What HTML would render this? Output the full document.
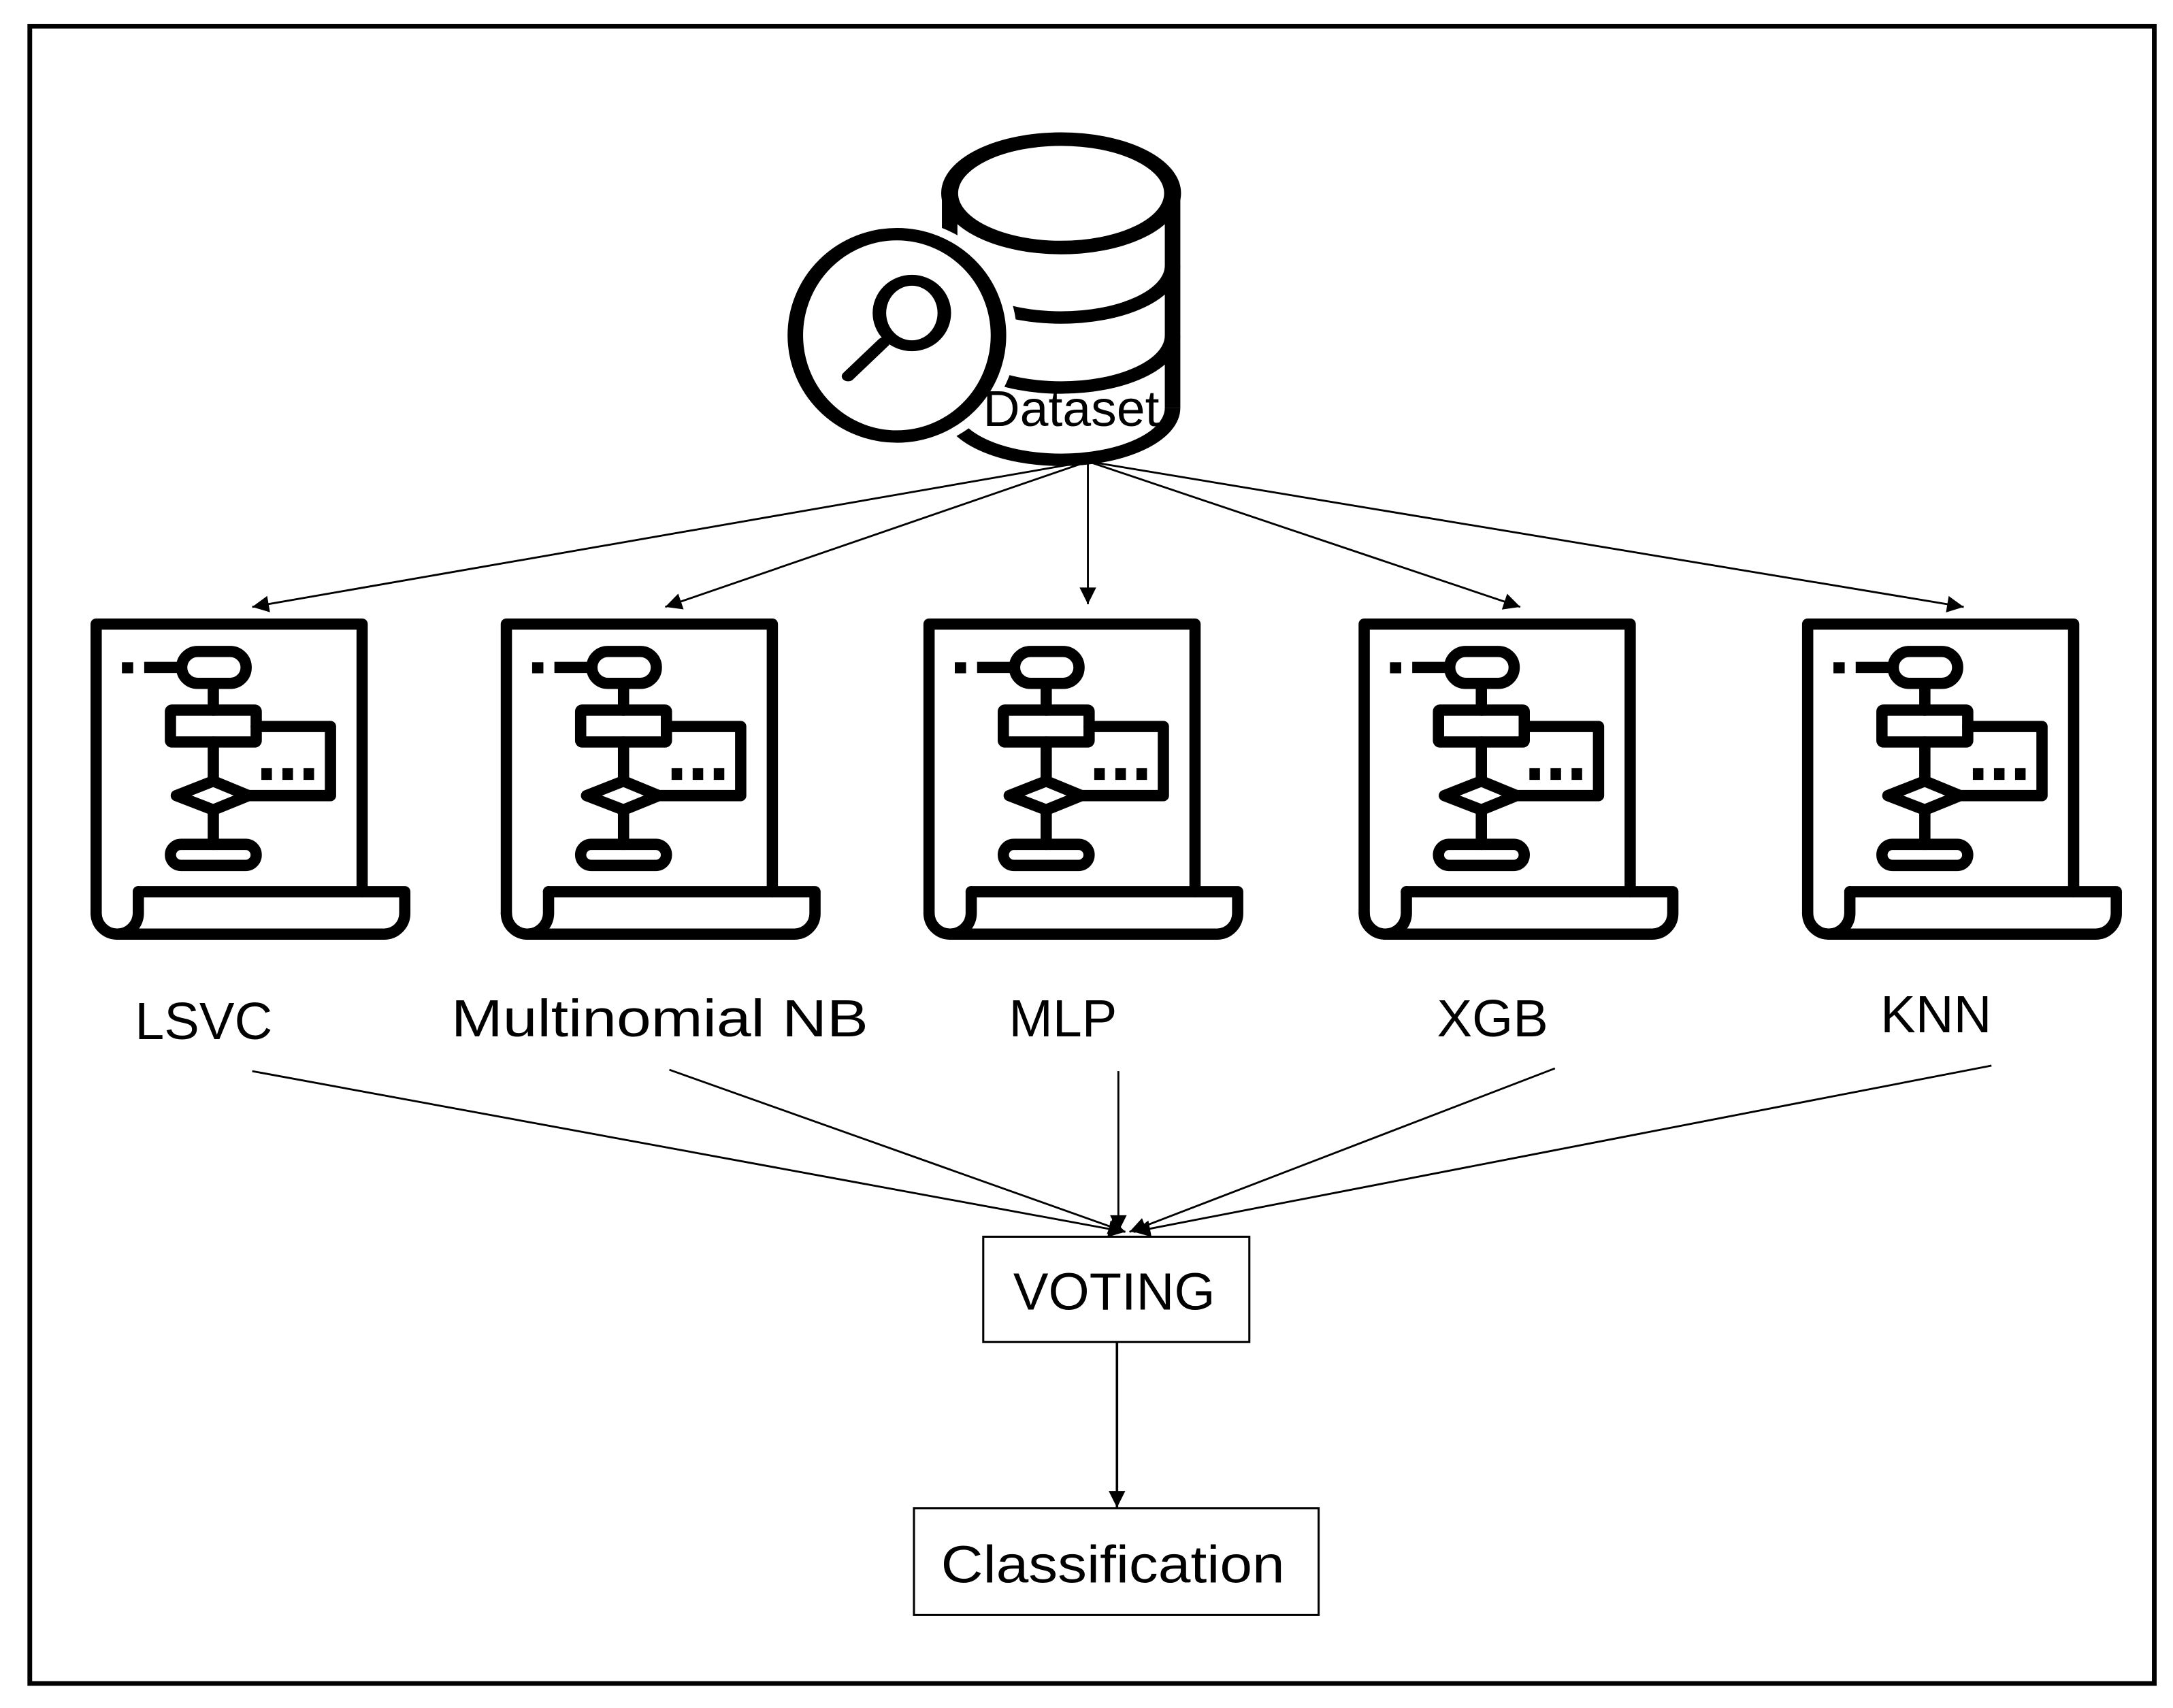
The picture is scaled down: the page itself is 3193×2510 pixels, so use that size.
<!DOCTYPE html>
<html><head><meta charset="utf-8"><style>
html,body{margin:0;padding:0;background:#fff;}
svg{display:block;}
text{font-family:"Liberation Sans",sans-serif;fill:#000;}
</style></head><body>
<svg width="3193" height="2510" viewBox="0 0 1568 1232.6" preserveAspectRatio="none" xmlns="http://www.w3.org/2000/svg">
<defs>
<marker id="ah" viewBox="0 0 10 10" refX="10" refY="5" markerWidth="14" markerHeight="12" markerUnits="userSpaceOnUse" orient="auto">
<path d="M0,0 L10,5 L0,10 z" fill="#000"/></marker>
<g id="doc">
<g fill="none" stroke="#000" stroke-width="48" stroke-linejoin="round" stroke-linecap="round">
<path d="M120 1390 L120 155 L1255 155 L1255 1297"/>
<path d="M300 1297 L1437 1297 L1437 1390 A88 88 0 0 1 1350 1478 L210 1478"/>
<path d="M300 1297 L300 1390 A90 90 0 0 1 210 1478"/>
<path d="M120 1390 A90 90 0 0 0 210 1478"/>
<line x1="325" y1="340" x2="465" y2="340" stroke-linecap="butt"/>
<rect x="485" y="272" width="275" height="136" rx="68"/>
<line x1="620" y1="408" x2="620" y2="522"/>
<rect x="437" y="522" width="366" height="136" rx="6"/>
<path d="M803 592 L1120 592 L1120 887 L770 887"/>
<polygon points="620,825 770,887 620,948 462,887"/>
<line x1="620" y1="658" x2="620" y2="825"/>
<line x1="620" y1="948" x2="620" y2="1095"/>
<rect x="437" y="1095" width="366" height="90" rx="45"/>
</g>
<g fill="#000">
<rect x="230" y="318" width="48" height="47"/>
<rect x="825" y="770" width="45" height="50"/>
<rect x="915" y="770" width="45" height="50"/>
<rect x="1005" y="770" width="45" height="50"/>
</g>
</g>
</defs>
<rect x="21.5" y="18.9" width="1533" height="1196" fill="none" stroke="#000" stroke-width="3.4"/>

<!-- dataset -->
<g transform="translate(540.3,90.6) scale(0.2036,0.163)">
<g fill="none" stroke="#000" stroke-width="55">
<line x1="712" y1="300" x2="712" y2="1250"/>
<line x1="1502" y1="300" x2="1502" y2="1250"/>
<ellipse cx="1107" cy="300" rx="395" ry="240" fill="#fff" stroke-width="60"/>
<path d="M712 620 A395 230 0 0 0 1502 620"/>
<path d="M712 930 A395 230 0 0 0 1502 930"/>
<path d="M712 1250 A395 230 0 0 0 1502 1250"/>
</g>
<ellipse cx="525" cy="929" rx="360" ry="448" fill="#fff" stroke="#fff" stroke-width="130"/>
<ellipse cx="525" cy="929" rx="360" ry="448" fill="#fff" stroke="#000" stroke-width="55"/>
<ellipse cx="578" cy="830" rx="115" ry="145" fill="none" stroke="#000" stroke-width="48"/>
<line x1="478" y1="960" x2="352" y2="1110" stroke="#000" stroke-width="45" stroke-linecap="round"/>
<text x="830" y="1330" font-size="225" textLength="625" lengthAdjust="spacingAndGlyphs">Dataset</text>
</g>

<!-- doc icons -->
<use href="#doc" transform="translate(66,447) scale(0.1691) translate(-100,-135)"/>
<use href="#doc" transform="translate(362,447) scale(0.1691) translate(-100,-135)"/>
<use href="#doc" transform="translate(667,447) scale(0.1691) translate(-100,-135)"/>
<use href="#doc" transform="translate(981,447) scale(0.1691) translate(-100,-135)"/>
<use href="#doc" transform="translate(1301,447) scale(0.1691) translate(-100,-135)"/>

<!-- arrows from dataset -->
<g stroke="#000" stroke-width="1.4" fill="none" marker-end="url(#ah)">
<line x1="785" y1="333" x2="182" y2="438"/>
<line x1="785" y1="333" x2="480" y2="438"/>
<line x1="785" y1="333" x2="785" y2="436"/>
<line x1="785" y1="333" x2="1097" y2="438"/>
<line x1="785" y1="333" x2="1417" y2="438"/>
</g>

<!-- labels -->
<g font-size="38">
<text x="147" y="750" text-anchor="middle">LSVC</text>
<text x="476" y="748" text-anchor="middle" textLength="301" lengthAdjust="spacingAndGlyphs">Multinomial NB</text>
<text x="767" y="748" text-anchor="middle">MLP</text>
<text x="1077" y="748" text-anchor="middle">XGB</text>
<text x="1397" y="745" text-anchor="middle">KNN</text>
</g>

<!-- arrows to voting -->
<g stroke="#000" stroke-width="1.4" fill="none" marker-end="url(#ah)">
<line x1="182" y1="773" x2="812" y2="889"/>
<line x1="483" y1="772" x2="812" y2="889"/>
<line x1="807" y1="773" x2="807" y2="889"/>
<line x1="1122" y1="771" x2="815" y2="889"/>
<line x1="1437" y1="769" x2="818" y2="889"/>
<line x1="806" y1="968" x2="806" y2="1088" stroke-width="1.8"/>
</g>

<rect x="709.5" y="892.5" width="192" height="76" fill="none" stroke="#000" stroke-width="1.5"/>
<text x="804" y="945" font-size="38" text-anchor="middle">VOTING</text>
<rect x="659.5" y="1088.5" width="292" height="77" fill="none" stroke="#000" stroke-width="1.5"/>
<text x="803" y="1142" font-size="38" text-anchor="middle" textLength="248" lengthAdjust="spacingAndGlyphs">Classification</text>
</svg>
</body></html>
